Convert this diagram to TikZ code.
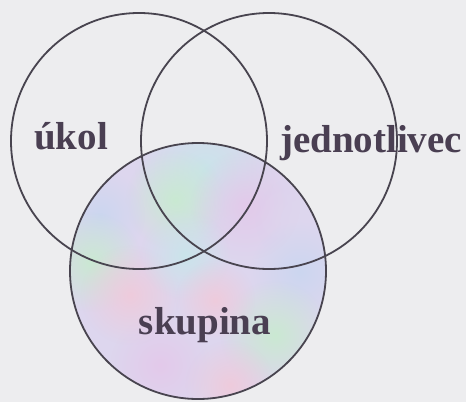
\documentclass[tikz,border=0pt]{standalone}
\usepackage{fontspec}
\setmainfont{Liberation Serif}
\usetikzlibrary{fadings}
\definecolor{paper}{HTML}{EDEDEF}
\definecolor{ink}{HTML}{48444F}
\definecolor{txt}{HTML}{4A3F52}
\definecolor{lav}{HTML}{DDD6EE}
\definecolor{mint}{HTML}{C8EBCF}
\definecolor{aqua}{HTML}{C8E6EA}
\definecolor{rose}{HTML}{F0CADA}
\definecolor{sky}{HTML}{CAD6F0}
\definecolor{orchid}{HTML}{E4C8EA}
\tikzfading[name=softblob, inner color=transparent!10, outer color=transparent!100]
\tikzset{
  ring/.style={circle, draw=ink, line width=1.8pt, minimum size=256pt, inner sep=0pt},
  label/.style={font=\bfseries\fontsize{39}{39}\selectfont, text=txt, inner sep=0pt, anchor=base},
  blob/.style={path fading=softblob}
}
\begin{document}
\begin{tikzpicture}[x=1pt, y=-1pt]
  % page
  \fill[paper] (0,0) rectangle (466,402);
  \useasboundingbox (0,0) rectangle (466,402);

  % iridescent fill of the lower circle
  \begin{scope}
    \clip (198,271) circle (128);
    \fill[lav] (198,271) circle (130);
    \fill[aqua, blob] (205,170) circle (70);
    \fill[mint, blob] (175,200) circle (50);
    \fill[sky, blob] (100,215) circle (45);
    \fill[mint, blob] (92,262) circle (50);
    \fill[rose, blob] (130,295) circle (50);
    \fill[orchid, blob] (245,205) circle (55);
    \fill[lav, blob] (300,220) circle (45);
    \fill[sky, blob] (300,272) circle (50);
    \fill[mint, blob] (275,335) circle (55);
    \fill[aqua, blob] (185,255) circle (45);
    \fill[rose, blob] (215,300) circle (40);
    \fill[orchid, blob] (160,365) circle (50);
    \fill[rose, blob] (230,385) circle (45);
  \end{scope}

  % the three sets
  \node[ring] (task)  at (139,141) {};
  \node[ring] (indiv) at (269,141) {};
  \node[ring] (group) at (198,271) {};

  % labels
  \node[label] (tasklbl)  at (71,149)  {úkol};
  \node[label] (indivlbl) at (371,152) {jednotlivec};
  \node[label] (grouplbl) at (205,334) {skupina};
\end{tikzpicture}
\end{document}
